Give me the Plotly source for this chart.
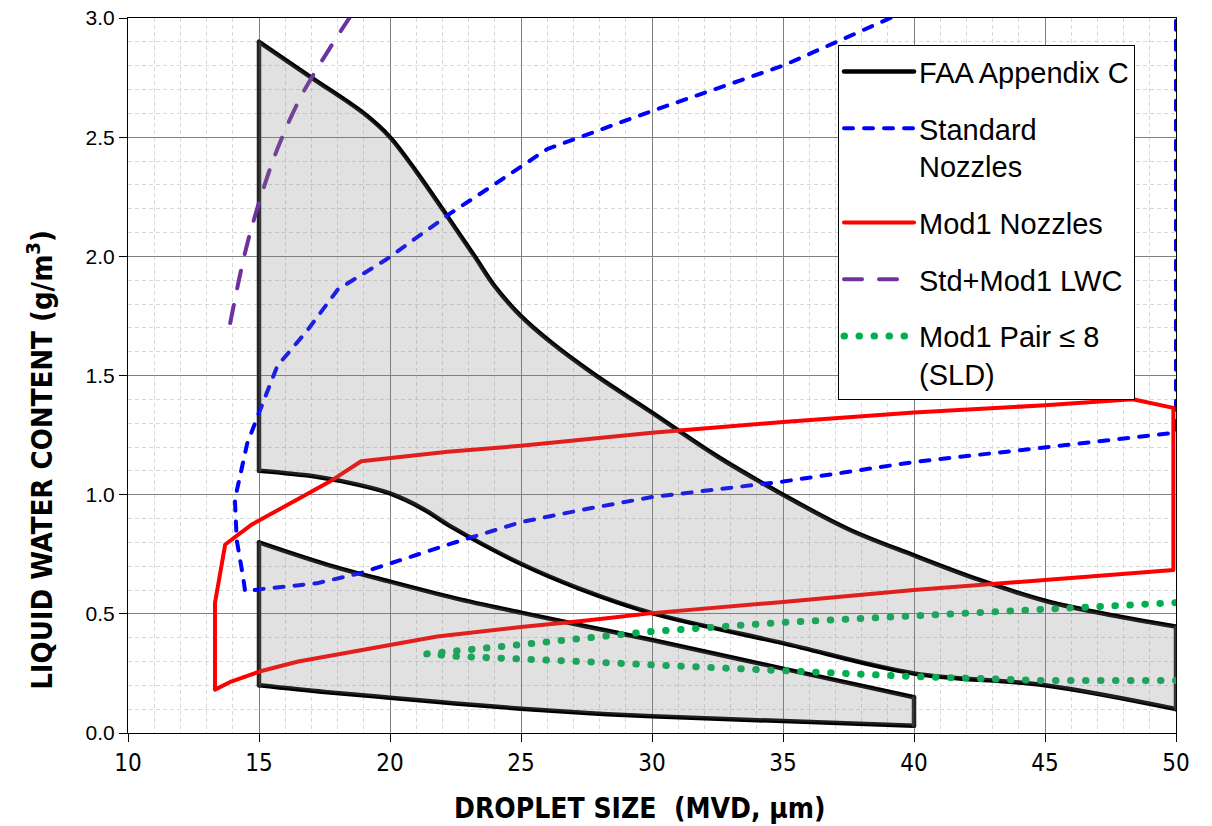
import plotly.graph_objects as go

# ---------------- data ----------------
# FAA Appendix C - intermittent maximum envelope
faa_int_up_x = [15, 17.0, 19.0, 20.0, 21.06, 22.2, 23.23, 24.0, 25, 26.17, 27.7, 30, 32.5, 35, 37.5, 40, 42.5, 45, 47.5, 50]
faa_int_up_y = [2.90, 2.75, 2.60, 2.50, 2.347, 2.166, 2.0, 1.874, 1.749, 1.637, 1.512, 1.344, 1.16, 1.00, 0.855, 0.745, 0.642, 0.555, 0.495, 0.447]
faa_int_lo_x = [15, 17.2, 18.85, 20, 21.3, 22.3, 25, 27.2, 30, 35, 40, 45, 50]
faa_int_lo_y = [1.10, 1.075, 1.04, 1.005, 0.938, 0.868, 0.71, 0.607, 0.503, 0.377, 0.25, 0.20, 0.10]

# FAA Appendix C - continuous maximum envelope
faa_con_up_x = [15, 17.5, 20, 22.5, 25, 27.5, 30, 35, 40]
faa_con_up_y = [0.80, 0.71, 0.635, 0.565, 0.505, 0.447, 0.39, 0.27, 0.15]
faa_con_lo_x = [15, 17.5, 20, 22.5, 25, 27.5, 30, 35, 40]
faa_con_lo_y = [0.20, 0.172, 0.148, 0.124, 0.102, 0.084, 0.07, 0.05, 0.03]

# Standard nozzles envelope
std_x = [39.1, 35, 30, 26, 24.1, 22.3, 19.9, 18.0, 16.85, 15.7, 15.2, 14.55, 14.08, 14.15, 14.4, 14.47,
         15.2, 17.2, 18.85, 20.25, 22.2, 25, 27.5, 30, 35, 40, 45, 50, 50]
std_y = [3.0, 2.80, 2.61, 2.45, 2.31, 2.18, 1.99, 1.86, 1.69, 1.54, 1.40, 1.215, 0.98, 0.81, 0.65, 0.595,
         0.605, 0.628, 0.67, 0.72, 0.79, 0.885, 0.94, 0.99, 1.055, 1.137, 1.20, 1.26, 3.0]

# Mod1 nozzles envelope
mod1_x = [13.32, 13.32, 13.71, 14.73, 16.46, 17.7, 18.9, 22.2, 25, 30, 35, 40, 45, 48.35, 49.9,
          49.9, 45, 40, 35, 30, 27.5, 25, 21.8, 20, 18.5, 16.5, 15.05, 13.96, 13.32]
mod1_y = [0.182, 0.546, 0.791, 0.875, 0.98, 1.055, 1.14, 1.18, 1.205, 1.26, 1.305, 1.345, 1.375, 1.40, 1.364,
          0.684, 0.642, 0.60, 0.55, 0.503, 0.472, 0.445, 0.405, 0.37, 0.343, 0.30, 0.259, 0.217, 0.182]

# Std + Mod1 LWC
lwc_x = [13.9, 14.5, 15.1, 15.7, 16.6, 17.74, 18.45]
lwc_y = [1.72, 2.03, 2.26, 2.45, 2.67, 2.88, 3.0]

# Mod1 pair <= 8 (SLD)
pair_x = [50, 45, 40, 35, 30, 27.7, 24.8, 22.5, 21.4, 22.5, 24.8, 27.7, 30, 35, 40, 45, 50]
pair_y = [0.22, 0.22, 0.237, 0.265, 0.286, 0.298, 0.31, 0.322, 0.332, 0.345, 0.369, 0.401, 0.426, 0.464, 0.492, 0.52, 0.547]

x_ticks = [10, 15, 20, 25, 30, 35, 40, 45, 50]
y_ticks = [0.0, 0.5, 1.0, 1.5, 2.0, 2.5, 3.0]

# ---------------- figure ----------------
fig = go.Figure()

FILL = "rgba(128,128,128,0.24)"
FAA_LINE = dict(color="black", width=4.5, shape="spline", smoothing=1.0)

# FAA outlines (drawn first, under the other series)
fig.add_trace(go.Scatter(x=faa_int_up_x, y=faa_int_up_y, mode="lines", name="FAA Appendix C",
                         line=FAA_LINE, legendgroup="faa", legendrank=1, showlegend=True))
fig.add_trace(go.Scatter(x=faa_int_lo_x, y=faa_int_lo_y, mode="lines", line=FAA_LINE,
                         legendgroup="faa", showlegend=False))
fig.add_trace(go.Scatter(x=faa_con_up_x, y=faa_con_up_y, mode="lines", line=FAA_LINE,
                         legendgroup="faa", showlegend=False))
fig.add_trace(go.Scatter(x=faa_con_lo_x, y=faa_con_lo_y, mode="lines", line=FAA_LINE,
                         legendgroup="faa", showlegend=False))
# vertical edges of the envelopes
edge_x = [faa_int_up_x[0], faa_int_lo_x[0], None, faa_int_up_x[-1], faa_int_lo_x[-1], None,
          faa_con_up_x[0], faa_con_lo_x[0], None, faa_con_up_x[-1], faa_con_lo_x[-1]]
edge_y = [faa_int_up_y[0], faa_int_lo_y[0], None, faa_int_up_y[-1], faa_int_lo_y[-1], None,
          faa_con_up_y[0], faa_con_lo_y[0], None, faa_con_up_y[-1], faa_con_lo_y[-1]]
fig.add_trace(go.Scatter(x=edge_x, y=edge_y, mode="lines", line=dict(color="#222222", width=4.5),
                         legendgroup="faa", showlegend=False))

fig.add_trace(go.Scatter(x=std_x, y=std_y, mode="lines", name="Standard<br>Nozzles",
                         line=dict(color="#0000FF", width=4, dash="9px,11px"),
                         legendgroup="std", legendrank=2))
fig.add_trace(go.Scatter(x=mod1_x, y=mod1_y, mode="lines", name="Mod1 Nozzles",
                         line=dict(color="#FF0000", width=4), legendgroup="mod1", legendrank=3))
fig.add_trace(go.Scatter(x=lwc_x, y=lwc_y, mode="lines", name="Std+Mod1 LWC",
                         line=dict(color="#7030A0", width=4, dash="18px,17px", shape="spline"),
                         legendgroup="lwc", legendrank=4))
fig.add_trace(go.Scatter(x=pair_x, y=pair_y, mode="lines", name="Mod1 Pair ≤ 8<br>(SLD)",
                         line=dict(color="#00B050", width=7, dash="0.5px,14.5px"),
                         legendgroup="pair", legendrank=5))

# translucent envelope fills on top (closed polygons built from the same arrays)
for lo_x, lo_y, up_x, up_y in [(faa_int_lo_x, faa_int_lo_y, faa_int_up_x, faa_int_up_y),
                               (faa_con_lo_x, faa_con_lo_y, faa_con_up_x, faa_con_up_y)]:
    poly_x = list(up_x) + list(lo_x[::-1])
    poly_y = list(up_y) + list(lo_y[::-1])
    fig.add_trace(go.Scatter(x=poly_x, y=poly_y, mode="lines", fill="toself", fillcolor=FILL,
                             line=dict(width=0, color="rgba(0,0,0,0)"),
                             showlegend=False, hoverinfo="skip"))

NARROW = "Liberation Sans Narrow, Arial Narrow, DejaVu Sans Condensed, sans-serif"
ARIAL = "Liberation Sans, Arial, sans-serif"

fig.update_layout(
    width=1212, height=826,
    margin=dict(l=128, r=36, t=18, b=93),
    paper_bgcolor="white", plot_bgcolor="white",
    font=dict(family=ARIAL, color="black"),
    showlegend=True,
    legend=dict(x=0.6775, y=0.962, xanchor="left", yanchor="top",
                bgcolor="white", bordercolor="black", borderwidth=1,
                font=dict(family=ARIAL, size=29, color="black"),
                tracegroupgap=16, valign="top", itemwidth=70),
    annotations=[
        dict(text="LIQUID WATER CONTENT (g/m<sup>3</sup>)", textangle=-90, xref="paper", yref="paper",
             x=-0.084, y=0.382, xanchor="center", yanchor="middle", showarrow=False,
             font=dict(family=NARROW, size=29, weight="bold", color="black")),
        dict(text="DROPLET SIZE \u00a0(MVD, µm)", xref="paper", yref="paper",
             x=0.4885, y=-0.105, xanchor="center", yanchor="middle", showarrow=False,
             font=dict(family=NARROW, size=28, weight="bold", color="black")),
    ],
)

fig.update_xaxes(
    range=[10, 50], tickvals=x_ticks, ticktext=[str(v) for v in x_ticks], automargin=False,
    showline=True, linecolor="black", linewidth=1, mirror=True,
    ticks="outside", ticklen=8, tickcolor="black",
    showgrid=True, gridcolor="#808080", gridwidth=1, zeroline=False,
    tickfont=dict(family=NARROW, size=24),
    minor=dict(dtick=1, showgrid=True, gridcolor="#d9d9d9", griddash="4px,3px", gridwidth=1),
)
fig.update_yaxes(
    range=[0, 3], tickvals=y_ticks, ticktext=[f"{v:.1f}" for v in y_ticks], automargin=False,
    showline=True, linecolor="black", linewidth=1, mirror=True,
    ticks="outside", ticklen=8, tickcolor="black",
    showgrid=True, gridcolor="#808080", gridwidth=1, zeroline=False,
    tickfont=dict(family=ARIAL, size=21),
    minor=dict(dtick=0.1, showgrid=True, gridcolor="#d9d9d9", griddash="4px,3px", gridwidth=1),
)

post = """
document.querySelectorAll('path.js-line').forEach(function(p){
  p.style.strokeLinecap='round'; p.style.strokeLinejoin='round';
});
"""
fig.write_html("out.html", post_script=post)
